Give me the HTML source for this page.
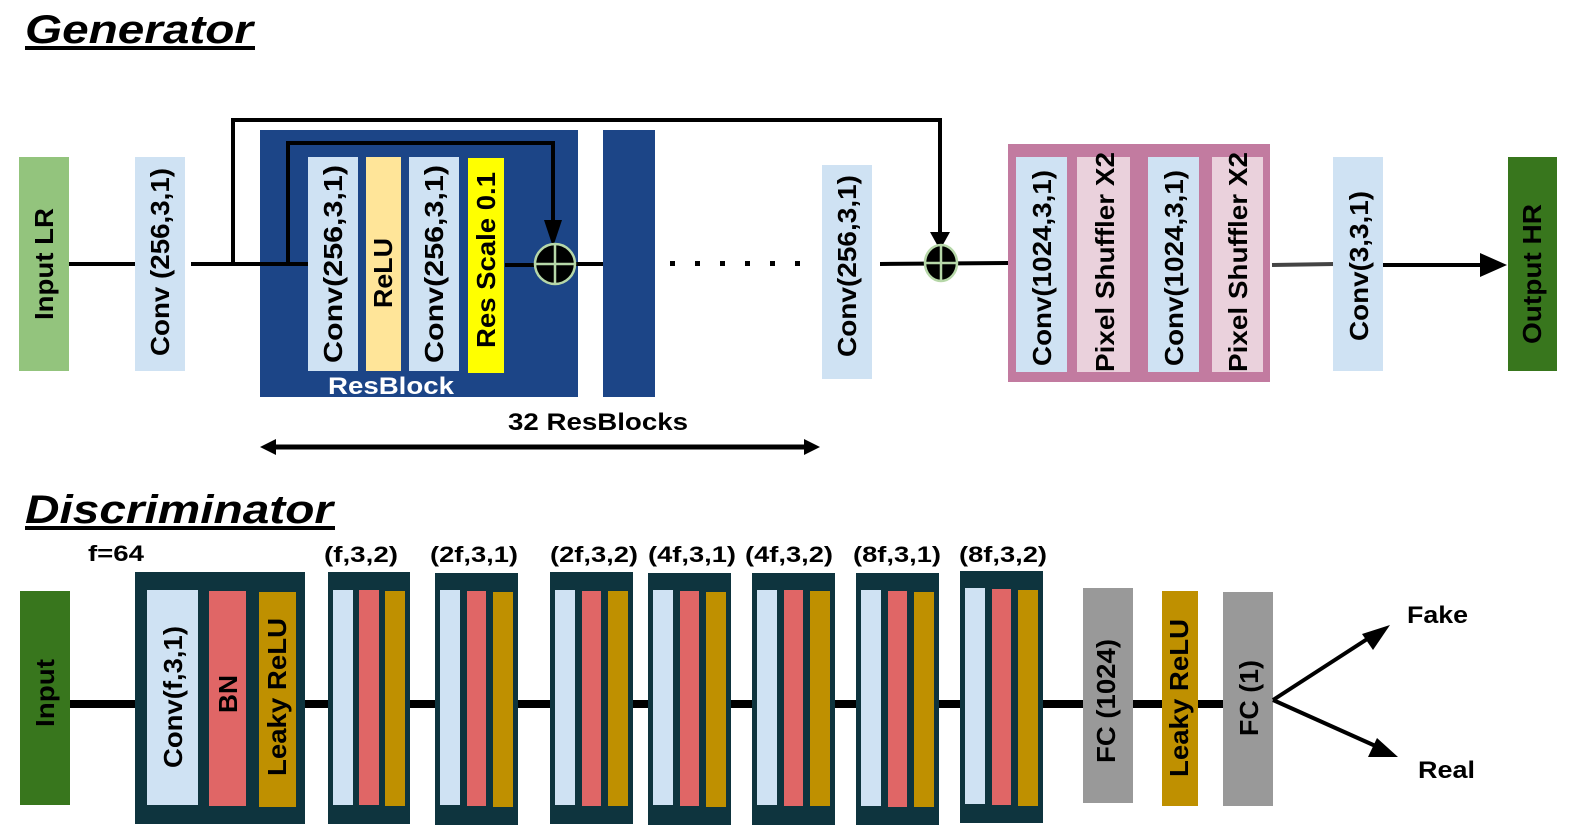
<!DOCTYPE html>
<html><head><meta charset="utf-8"><style>
html,body{margin:0;padding:0;background:#fff;}
svg{display:block;}
text{font-family:"Liberation Sans",Arial,sans-serif;font-weight:bold;}
</style></head><body>
<svg width="1570" height="839" viewBox="0 0 1570 839" xmlns="http://www.w3.org/2000/svg">
<defs>
<marker id="ah" markerWidth="10" markerHeight="10" refX="9" refY="5" orient="auto" markerUnits="userSpaceOnUse"><path d="M0,0 L10,5 L0,10 z" fill="#000"/></marker>
</defs>

<!-- Titles -->
<text x="25" y="43" font-size="40" font-style="italic" textLength="228" lengthAdjust="spacingAndGlyphs">Generator</text>
<rect x="25" y="46" width="230" height="4" fill="#000"/>
<text x="25" y="523" font-size="40" font-style="italic" textLength="308" lengthAdjust="spacingAndGlyphs">Discriminator</text>
<rect x="25" y="526" width="310" height="4" fill="#000"/>

<!-- Generator lines -->
<line x1="69" y1="264" x2="135" y2="264" stroke="#000" stroke-width="4"/>
<line x1="191" y1="264" x2="308" y2="264" stroke="#000" stroke-width="4"/>
<polyline points="233,264 233,120 940,120 940,240" fill="none" stroke="#000" stroke-width="4"/>
<path d="M930,232 L950,232 L940,250 z" fill="#000"/>

<!-- Input LR -->
<rect x="19" y="157" width="50" height="214" fill="#93c47d"/>
<text transform="translate(53,264) rotate(-90)" text-anchor="middle" font-size="26" textLength="112" lengthAdjust="spacingAndGlyphs">Input LR</text>
<!-- Conv -->
<rect x="135" y="157" width="50" height="214" fill="#cfe2f3"/>
<text transform="translate(169,262) rotate(-90)" text-anchor="middle" font-size="26" textLength="188" lengthAdjust="spacingAndGlyphs">Conv (256,3,1)</text>

<!-- ResBlock -->
<rect x="260" y="130" width="318" height="267" fill="#1c4587"/>
<line x1="260" y1="264" x2="308" y2="264" stroke="#000" stroke-width="4"/>
<polyline points="288,264 288,143 553,143 553,222" fill="none" stroke="#000" stroke-width="4"/>
<path d="M544,220 L562,220 L553,247 z" fill="#000"/>
<rect x="308" y="157" width="50" height="214" fill="#cfe2f3"/>
<text transform="translate(342,264) rotate(-90)" text-anchor="middle" font-size="26" textLength="198" lengthAdjust="spacingAndGlyphs">Conv(256,3,1)</text>
<rect x="366" y="157" width="35" height="214" fill="#ffe599"/>
<text transform="translate(392,273) rotate(-90)" text-anchor="middle" font-size="26" textLength="70" lengthAdjust="spacingAndGlyphs">ReLU</text>
<rect x="409" y="157" width="50" height="214" fill="#cfe2f3"/>
<text transform="translate(443,264) rotate(-90)" text-anchor="middle" font-size="26" textLength="198" lengthAdjust="spacingAndGlyphs">Conv(256,3,1)</text>
<rect x="468" y="158" width="36" height="215" fill="#ffff00"/>
<text transform="translate(495,260) rotate(-90)" text-anchor="middle" font-size="26" textLength="176" lengthAdjust="spacingAndGlyphs">Res Scale 0.1</text>
<line x1="505" y1="265" x2="538" y2="265" stroke="#000" stroke-width="4"/>
<line x1="570" y1="264" x2="603" y2="264" stroke="#000" stroke-width="4"/>
<circle cx="555" cy="264" r="20" fill="#000" stroke="#b6d7a8" stroke-width="2.5"/>
<line x1="535" y1="264" x2="575" y2="264" stroke="#b6d7a8" stroke-width="2.5"/>
<line x1="555" y1="244" x2="555" y2="284" stroke="#b6d7a8" stroke-width="2.5"/>
<text x="328" y="394" font-size="24" fill="#fff" textLength="126" lengthAdjust="spacingAndGlyphs">ResBlock</text>

<rect x="603" y="130" width="52" height="267" fill="#1c4587"/>

<!-- dots -->
<g fill="#000">
<rect x="670" y="261" width="5" height="5"/><rect x="695" y="261" width="5" height="5"/><rect x="720" y="261" width="5" height="5"/><rect x="745" y="261" width="5" height="5"/><rect x="770" y="261" width="5" height="5"/><rect x="795" y="261" width="5" height="5"/>
</g>

<rect x="822" y="165" width="50" height="214" fill="#cfe2f3"/>
<text transform="translate(856,266) rotate(-90)" text-anchor="middle" font-size="26" textLength="182" lengthAdjust="spacingAndGlyphs">Conv(256,3,1)</text>

<line x1="880" y1="264" x2="1008" y2="263" stroke="#000" stroke-width="4"/>
<ellipse cx="941" cy="263" rx="16" ry="18" fill="#000" stroke="#b6d7a8" stroke-width="2.5"/>
<line x1="925" y1="263" x2="957" y2="263" stroke="#b6d7a8" stroke-width="2.5"/>
<line x1="941" y1="245" x2="941" y2="281" stroke="#b6d7a8" stroke-width="2.5"/>

<!-- Pink upsample block -->
<rect x="1008" y="144" width="262" height="238" fill="#c27ba0"/>
<rect x="1016" y="157" width="51" height="215" fill="#cfe2f3"/>
<text transform="translate(1051,268) rotate(-90)" text-anchor="middle" font-size="26" textLength="196" lengthAdjust="spacingAndGlyphs">Conv(1024,3,1)</text>
<rect x="1077" y="157" width="53" height="215" fill="#ead1dc"/>
<text transform="translate(1114,262) rotate(-90)" text-anchor="middle" font-size="26" textLength="220" lengthAdjust="spacingAndGlyphs">Pixel Shuffler X2</text>
<rect x="1148" y="157" width="51" height="215" fill="#cfe2f3"/>
<text transform="translate(1183,268) rotate(-90)" text-anchor="middle" font-size="26" textLength="196" lengthAdjust="spacingAndGlyphs">Conv(1024,3,1)</text>
<rect x="1212" y="157" width="51" height="215" fill="#ead1dc"/>
<text transform="translate(1247,262) rotate(-90)" text-anchor="middle" font-size="26" textLength="220" lengthAdjust="spacingAndGlyphs">Pixel Shuffler X2</text>

<line x1="1272" y1="265" x2="1335" y2="264" stroke="#444" stroke-width="4"/>
<rect x="1333" y="157" width="50" height="214" fill="#cfe2f3"/>
<text transform="translate(1368,266) rotate(-90)" text-anchor="middle" font-size="26" textLength="150" lengthAdjust="spacingAndGlyphs">Conv(3,3,1)</text>
<line x1="1383" y1="265" x2="1482" y2="265" stroke="#000" stroke-width="4"/>
<path d="M1480,253 L1507,265 L1480,277 z" fill="#000"/>
<rect x="1508" y="157" width="49" height="214" fill="#38761d"/>
<text transform="translate(1541,274) rotate(-90)" text-anchor="middle" font-size="26" textLength="140" lengthAdjust="spacingAndGlyphs">Output HR</text>

<!-- 32 ResBlocks -->
<text x="598" y="430" text-anchor="middle" font-size="24" textLength="180" lengthAdjust="spacingAndGlyphs">32 ResBlocks</text>
<line x1="272" y1="447" x2="808" y2="447" stroke="#000" stroke-width="5"/>
<path d="M260,447 L276,439 L276,455 z" fill="#000"/>
<path d="M820,447 L804,439 L804,455 z" fill="#000"/>

<!-- Discriminator -->
<line x1="70" y1="704" x2="1225" y2="704" stroke="#000" stroke-width="8"/>
<text x="88" y="561" font-size="22" textLength="56" lengthAdjust="spacingAndGlyphs">f=64</text>
<rect x="20" y="591" width="50" height="214" fill="#38761d"/>
<text transform="translate(54,693) rotate(-90)" text-anchor="middle" font-size="26" textLength="68" lengthAdjust="spacingAndGlyphs">Input</text>

<rect x="135" y="572" width="170" height="252" fill="#0e343e"/>
<rect x="147" y="590" width="51" height="215" fill="#cfe2f3"/>
<text transform="translate(182,697) rotate(-90)" text-anchor="middle" font-size="26" textLength="142" lengthAdjust="spacingAndGlyphs">Conv(f,3,1)</text>
<rect x="209" y="591" width="37" height="215" fill="#e06666"/>
<text transform="translate(237,694) rotate(-90)" text-anchor="middle" font-size="26" textLength="38" lengthAdjust="spacingAndGlyphs">BN</text>
<rect x="259" y="592" width="37" height="215" fill="#bf9000"/>
<text transform="translate(286,697) rotate(-90)" text-anchor="middle" font-size="26" textLength="158" lengthAdjust="spacingAndGlyphs">Leaky ReLU</text>

<g>
<rect x="328" y="572" width="82" height="252" fill="#0e343e"/>
<rect x="333" y="590" width="20" height="215" fill="#cfe2f3"/><rect x="359" y="590" width="20" height="215" fill="#e06666"/><rect x="385" y="591" width="20" height="215" fill="#bf9000"/>
<rect x="435" y="573" width="83" height="252" fill="#0e343e"/>
<rect x="440" y="590" width="20" height="215" fill="#cfe2f3"/><rect x="467" y="591" width="19" height="215" fill="#e06666"/><rect x="493" y="592" width="20" height="215" fill="#bf9000"/>
<rect x="550" y="572" width="83" height="252" fill="#0e343e"/>
<rect x="555" y="590" width="20" height="215" fill="#cfe2f3"/><rect x="582" y="591" width="19" height="215" fill="#e06666"/><rect x="608" y="591" width="20" height="215" fill="#bf9000"/>
<rect x="648" y="573" width="83" height="252" fill="#0e343e"/>
<rect x="653" y="590" width="20" height="215" fill="#cfe2f3"/><rect x="680" y="591" width="19" height="215" fill="#e06666"/><rect x="706" y="592" width="20" height="215" fill="#bf9000"/>
<rect x="752" y="573" width="83" height="252" fill="#0e343e"/>
<rect x="757" y="590" width="20" height="215" fill="#cfe2f3"/><rect x="784" y="590" width="19" height="216" fill="#e06666"/><rect x="810" y="591" width="20" height="215" fill="#bf9000"/>
<rect x="856" y="573" width="83" height="252" fill="#0e343e"/>
<rect x="861" y="590" width="20" height="216" fill="#cfe2f3"/><rect x="888" y="591" width="19" height="216" fill="#e06666"/><rect x="914" y="592" width="20" height="215" fill="#bf9000"/>
<rect x="960" y="571" width="83" height="252" fill="#0e343e"/>
<rect x="965" y="588" width="20" height="216" fill="#cfe2f3"/><rect x="992" y="589" width="19" height="216" fill="#e06666"/><rect x="1018" y="590" width="20" height="216" fill="#bf9000"/>
</g>
<g font-size="22">
<text x="361" y="562" text-anchor="middle" textLength="74" lengthAdjust="spacingAndGlyphs">(f,3,2)</text>
<text x="474" y="562" text-anchor="middle" textLength="88" lengthAdjust="spacingAndGlyphs">(2f,3,1)</text>
<text x="594" y="562" text-anchor="middle" textLength="88" lengthAdjust="spacingAndGlyphs">(2f,3,2)</text>
<text x="692" y="562" text-anchor="middle" textLength="88" lengthAdjust="spacingAndGlyphs">(4f,3,1)</text>
<text x="789" y="562" text-anchor="middle" textLength="88" lengthAdjust="spacingAndGlyphs">(4f,3,2)</text>
<text x="897" y="562" text-anchor="middle" textLength="88" lengthAdjust="spacingAndGlyphs">(8f,3,1)</text>
<text x="1003" y="562" text-anchor="middle" textLength="88" lengthAdjust="spacingAndGlyphs">(8f,3,2)</text>
</g>

<rect x="1083" y="588" width="50" height="215" fill="#999999"/>
<text transform="translate(1115,701) rotate(-90)" text-anchor="middle" font-size="26" textLength="124" lengthAdjust="spacingAndGlyphs">FC (1024)</text>
<rect x="1162" y="591" width="36" height="215" fill="#bf9000"/>
<text transform="translate(1188,698) rotate(-90)" text-anchor="middle" font-size="26" textLength="158" lengthAdjust="spacingAndGlyphs">Leaky ReLU</text>
<rect x="1223" y="592" width="50" height="214" fill="#999999"/>
<text transform="translate(1258,698) rotate(-90)" text-anchor="middle" font-size="26" textLength="76" lengthAdjust="spacingAndGlyphs">FC (1)</text>

<line x1="1273" y1="700" x2="1375" y2="634" stroke="#000" stroke-width="4"/>
<path d="M1390,625 L1373,650 L1362,634 z" fill="#000"/>
<line x1="1273" y1="700" x2="1380" y2="748" stroke="#000" stroke-width="4"/>
<path d="M1398,757 L1368,757 L1377,738 z" fill="#000"/>
<text x="1407" y="623" font-size="24" textLength="61" lengthAdjust="spacingAndGlyphs">Fake</text>
<text x="1418" y="778" font-size="24" textLength="57" lengthAdjust="spacingAndGlyphs">Real</text>
</svg>
</body></html>
